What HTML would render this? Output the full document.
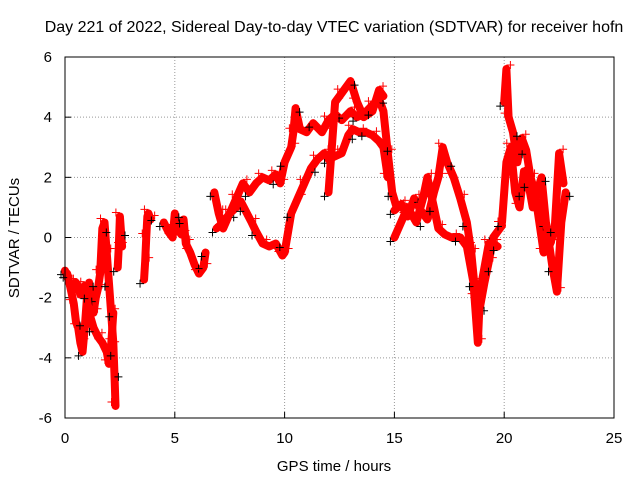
<!DOCTYPE html>
<html><head><meta charset="utf-8"><style>
body{margin:0;background:#fff;}
svg text{font-family:"Liberation Sans",sans-serif;font-size:15px;fill:#000;}
</style></head><body>
<svg id="chart" width="640" height="480">
<text x="334" y="32" text-anchor="middle" style="font-size:16px">Day 221 of 2022, Sidereal Day-to-day VTEC variation (SDTVAR) for receiver hofn</text>
<text x="334" y="471" text-anchor="middle">GPS time / hours</text>
<text transform="translate(19,238) rotate(-90)" text-anchor="middle">SDTVAR / TECUs</text>
<g id="grid"></g><g id="marks"></g>
<rect x="65" y="57" width="549" height="361" fill="none" stroke="#000" stroke-width="1"/>
</svg>
<script>
const xTicks=[0,5,10,15,20,25];
const yTicks=[-6,-4,-2,0,2,4,6];
// tracks: time (hours) and values (TECU)
const t1=[0,0.2,0.4,0.5,0.6,0.7,0.8,0.9,1.0,1.1,1.2,1.3,1.4,1.5,1.6,1.7,1.8,1.9,2.0,2.1,2.2,2.25,2.3];
const v1=[-1.1,-1.5,-2.2,-2.8,-3.0,-3.5,-3.8,-3.0,-2.0,-1.5,-2.0,-2.5,-2.0,-1.7,-1.2,0.3,0.5,-0.5,-1.5,-2.5,-3.5,-4.5,-5.6];
const t2=[0.1,0.3,0.5,0.7,0.9,1.1,1.3,1.5,1.7,1.9,2.0,2.1,2.2];
const v2=[-1.2,-1.8,-1.5,-1.9,-1.6,-2.5,-3.0,-3.3,-3.5,-3.8,-4.2,-3.6,-2.5];
const t3=[2.4,2.45,2.5,2.55,2.6];
const v3=[-1.0,-0.3,0.7,0.2,-0.3];
const t4=[3.6,3.65,3.7,3.75,3.8,3.9];
const v4=[-1.4,-0.8,0.0,0.7,0.8,0.6];
const t5=[4.5,4.7,4.9,5.0,5.1,5.3,5.4,5.5,5.7,5.9,6.1,6.3,6.4];
const v5=[0.5,0.2,0.0,0.8,0.3,0.1,0.6,-0.2,-0.5,-0.9,-1.2,-1.0,-0.5];
const t6=[6.8,7.0,7.2,7.5,7.8,8.1,8.4,8.7,9.0,9.3,9.6,9.8,10.0,10.3,10.4,10.5,10.7,11.0,11.3,11.7,12.0,12.3,12.6,13.0,13.3,13.6,14.0,14.3,14.5,14.7,14.9,15.1];
const v6=[1.5,0.8,0.3,0.8,1.3,1.8,1.5,1.8,2.0,1.9,2.1,1.8,2.5,3.0,3.5,4.3,3.6,3.5,3.8,3.5,3.9,4.1,3.9,4.2,4.0,4.1,4.4,4.6,4.2,2.8,1.5,1.0];
const t7=[6.9,7.2,7.5,7.8,8.0,8.5,8.7,9.0,9.3,9.6,9.9,10.0,10.3,10.6,10.9,11.2,11.5,11.8,12.0,12.3,12.6,12.9,13.1,13.4,13.7,14.0,14.3,14.5,14.7];
const v7=[0.3,0.5,0.8,1.0,1.2,0.5,0.2,-0.2,-0.3,-0.2,-0.6,-0.5,0.8,1.3,1.8,2.3,2.6,2.8,2.6,2.7,2.8,3.4,3.6,3.5,3.5,3.4,3.2,3.0,2.0];
const t8=[12.0,12.3,12.6,13.0,13.3,13.6,14.0,14.3,14.5];
const v8=[1.5,4.5,4.8,5.2,4.5,4.0,4.2,4.9,4.7];
const t9=[15.0,15.3,15.6,15.9,16.2,16.5,16.8,17.0,17.2,17.4,17.7,18.0,18.3,18.5,18.7,18.9,19.1,19.3,19.5,19.7,19.9];
const v9=[0.9,1.1,0.7,1.3,0.9,0.6,1.5,2.0,3.0,2.5,2.0,1.3,0.5,-0.5,-2.0,-2.3,-1.5,-0.8,0.0,0.2,0.4];
const t10=[15.0,15.3,15.6,16.0,16.3,16.5,16.8,17.0,17.3,17.6,18.0,18.3,18.6,18.8,18.9,19.1,19.3,19.5,19.7];
const v10=[0.0,0.5,1.0,0.5,1.3,2.0,1.0,0.3,0.1,0.0,0.0,-0.3,-1.5,-3.5,-1.8,-1.0,-0.2,-0.2,-0.3];
const t11=[20.0,20.1,20.2,20.4,20.6,20.8,21.0,21.2,21.4,21.6,21.8,22.0,22.2,22.4,22.6,22.8];
const v11=[4.5,5.6,4.0,3.5,2.5,3.3,2.9,2.0,1.5,0.5,-0.5,0.0,-1.0,-1.8,0.5,1.5];
const t12=[19.9,20.1,20.3,20.5,20.7,20.9,21.1,21.3,21.5,21.7,21.9,22.1,22.3,22.5,22.7];
const v12=[0.5,2.5,3.0,1.5,1.0,2.2,1.8,1.0,1.5,2.0,0.5,-0.2,0.3,2.8,1.8];
const tracks=[[t1,v1],[t2,v2],[t3,v3],[t4,v4],[t5,v5],[t6,v6],[t7,v7],[t8,v8],[t9,v9],[t10,v10],[t11,v11],[t12,v12]];
const X0=65,X1=614,Y0=418,Y1=57;
const sx=t=>X0+(t-0)/(25-0)*(X1-X0);
const sy=v=>Y0-(v+6)/12*(Y0-Y1);
const NS="http://www.w3.org/2000/svg";
const grid=document.getElementById('grid'),marks=document.getElementById('marks'),svg=document.getElementById('chart');
xTicks.forEach(t=>{
  const x=sx(t);
  if(t>0&&t<25){const l=document.createElementNS(NS,'line');
  l.setAttribute('x1',x);l.setAttribute('x2',x);l.setAttribute('y1',Y1);l.setAttribute('y2',Y0);
  l.setAttribute('stroke','#999');l.setAttribute('stroke-dasharray','1,2');
  
  grid.appendChild(l);}
  const tk=document.createElementNS(NS,'line');
  tk.setAttribute('x1',x);tk.setAttribute('x2',x);tk.setAttribute('y1',Y0);tk.setAttribute('y2',Y0-6);tk.setAttribute('stroke','#000');
  grid.appendChild(tk);
  const tx=document.createElementNS(NS,'text');
  tx.setAttribute('x',x);tx.setAttribute('y',443);tx.setAttribute('text-anchor','middle');tx.textContent=t;
  
  svg.appendChild(tx);
});
yTicks.forEach(v=>{
  const y=sy(v);
  if(v>-6&&v<6){const l=document.createElementNS(NS,'line');
  l.setAttribute('x1',X0);l.setAttribute('x2',X1);l.setAttribute('y1',y);l.setAttribute('y2',y);
  l.setAttribute('stroke','#999');l.setAttribute('stroke-dasharray','1,2');
  
  grid.appendChild(l);}
  const tk=document.createElementNS(NS,'line');
  tk.setAttribute('x1',X0);tk.setAttribute('x2',X0+6);tk.setAttribute('y1',y);tk.setAttribute('y2',y);tk.setAttribute('stroke','#000');
  grid.appendChild(tk);
  const tx=document.createElementNS(NS,'text');
  tx.setAttribute('x',52);tx.setAttribute('y',y+5);tx.setAttribute('text-anchor','end');tx.textContent=v;
  
  svg.appendChild(tx);
});
tracks.forEach(([ts,vs])=>{
  const p=document.createElementNS(NS,'polyline');
  p.setAttribute('points',ts.map((t,i)=>sx(t)+','+sy(vs[i])).join(' '));
  p.setAttribute('fill','none');p.setAttribute('stroke','#f00');p.setAttribute('stroke-width','8');p.setAttribute('stroke-linejoin','round');p.setAttribute('stroke-linecap','round');
  
  marks.appendChild(p);
  ts.forEach((t,i)=>{
    const x=sx(t),y=sy(vs[i]);
    const m=document.createElementNS(NS,'path');
    m.setAttribute('d',`M${x-4},${y}H${x+4}M${x},${y-4}V${y+4}`);
    m.setAttribute('stroke',i%3===0?'#000':'#f00');m.setAttribute('stroke-width','1');
    m.setAttribute('transform',`translate(${i%2?4:-4},${i%3?-4:4})`);
    
    marks.appendChild(m);
  });
});
</script>
</body></html>
